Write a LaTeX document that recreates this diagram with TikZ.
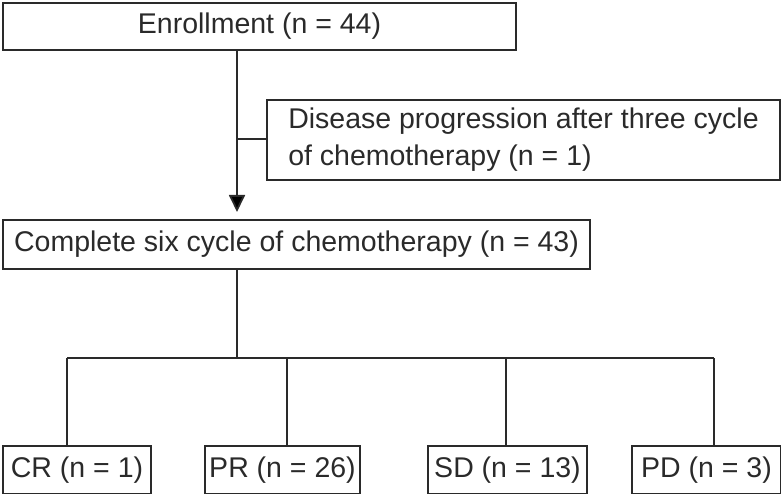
\documentclass[tikz,border=0pt]{standalone}
\usepackage{fontspec}
\setmainfont{Liberation Sans}
\usepackage{tikz}
\usetikzlibrary{arrows.meta,positioning}
\definecolor{inkgray}{HTML}{2A2A2A}
\tikzset{
    flowbox/.style={draw=inkgray, line width=2pt, text=inkgray, inner sep=0pt,
        font=\fontsize{28.5}{37}\selectfont, anchor=north west},
    link/.style={draw=inkgray, line width=1.8pt},
}

\begin{document}
\begin{tikzpicture}[x=1pt,y=-1pt]
        \useasboundingbox (0,0) rectangle (781,494);
        \node[flowbox, minimum width=513pt, minimum height=47pt] (enroll) at (2,2) {Enrollment (n = 44)};
        \node[flowbox, minimum width=513pt, minimum height=80pt, align=left] (prog) at (266,99)
              {Disease progression after three cycle\\of chemotherapy (n = 1)};
        \node[flowbox, minimum width=587pt, minimum height=49pt] (complete) at (2,219) {Complete six cycle of chemotherapy (n = 43)};
        \node[flowbox, minimum width=148pt, minimum height=48pt] (cr) at (2,445)   {CR (n = 1)};
        \node[flowbox, minimum width=155pt, minimum height=48pt] (pr) at (204,445) {PR (n = 26)};
        \node[flowbox, minimum width=159pt, minimum height=48pt] (sd) at (427,445) {SD (n = 13)};
        \node[flowbox, minimum width=149pt, minimum height=48pt] (pd) at (631,445) {PD (n = 3)};
        % trunk and branch points
        \coordinate (trunk) at (237,0);
        \coordinate (split) at (237,358);
        \coordinate (side)  at (237,139);
        \path[link]
        (enroll.south -| trunk) edge [-{Triangle[length=17pt,width=16pt]}, shorten >=7pt] (complete.north -| trunk)
        (side) edge (prog.west |- side)
        (complete.south -| trunk) edge (split)
        (split -| 67,0) edge (split -| 714,0)
        (split -| 67,0) edge (cr.north -| 67,0)
        (split -| 287,0) edge (pr.north -| 287,0)
        (split -| 506,0) edge (sd.north -| 506,0)
        (split -| 714,0) edge (pd.north -| 714,0)
        ;
    \end{tikzpicture}
\end{document}
